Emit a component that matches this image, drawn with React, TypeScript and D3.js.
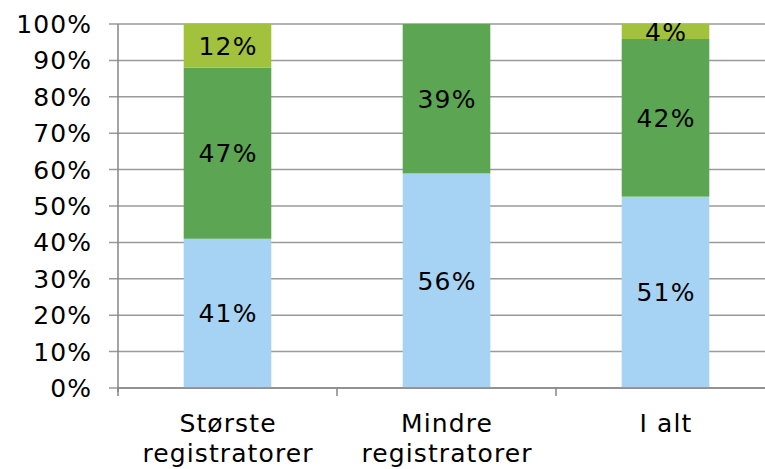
import React from "react";
import * as d3 from "d3";

// Categories (two-line labels) and series shares in percent
const categories = ["Største registratorer", "Mindre registratorer", "I alt"];
const categoryLines = [["Største", "registratorer"], ["Mindre", "registratorer"], ["I alt"]];
const seriesA = [41, 56, 51];
const seriesB = [47, 39, 42];
const seriesC = [12, 0, 4];
const seriesColors = ["#A6D3F3", "#5BA553", "#A2C13D"];
const yTicks = [0, 10, 20, 30, 40, 50, 60, 70, 80, 90, 100];

const W = 765;
const H = 469;
const left = 118;
const top = 24;
const bottom = 388;
const right = 775;
const font = "Verdana, 'DejaVu Sans', sans-serif";
const ls = 1.1;

export default function App() {
  const x = d3.scaleBand<string>().domain(categories).range([left, right]).paddingInner(0.6).paddingOuter(0.3);
  const y = d3.scaleLinear().domain([0, 100]).range([bottom, top]);

  const rows = categories.map((c, i) => ({ cat: c, a: seriesA[i], b: seriesB[i], c: seriesC[i] }));
  const stacked = d3
    .stack<any>()
    .keys(["a", "b", "c"])
    .offset(d3.stackOffsetExpand)(rows);

  const step = x.step();
  const boundaries = d3.range(categories.length + 1).map((i) => left + i * step);

  return (
    <svg width={W} height={H} style={{ position: "absolute", left: 0, top: 0 }}>
      <rect width={W} height={H} fill="#fff" />
      {yTicks.map((t) => (
        <g key={t}>
          <line x1={left - 9} x2={W} y1={y(t)} y2={y(t)} stroke="#9a9a9a" strokeWidth={1.5} />
          <text x={91 + ls} y={y(t)} dy="0.36em" textAnchor="end" fontFamily={font} fontSize={25} letterSpacing={ls} fill="#000">
            {t}%
          </text>
        </g>
      ))}
      {stacked.map((layer, li) =>
        layer.map((seg, ci) => {
          const raw = [seriesA, seriesB, seriesC][li][ci];
          if (!raw) return null;
          const bx = x(categories[ci])!;
          const y0 = y(seg[0] * 100);
          const y1 = y(seg[1] * 100);
          return (
            <g key={`${li}-${ci}`}>
              <rect x={bx} y={y1} width={x.bandwidth()} height={y0 - y1} fill={seriesColors[li]} />
              <text
                x={bx + x.bandwidth() / 2 + ls / 2}
                y={(y0 + y1) / 2}
                dy="0.36em"
                textAnchor="middle"
                fontFamily={font}
                fontSize={25}
                letterSpacing={ls}
                fill="#000"
              >
                {raw}%
              </text>
            </g>
          );
        })
      )}
      <line x1={left} x2={left} y1={top} y2={bottom + 4} stroke="#868686" strokeWidth={1.5} />
      <line x1={left} x2={W} y1={bottom} y2={bottom} stroke="#868686" strokeWidth={1.5} />
      {boundaries.map((bx, i) => (
        <line key={i} x1={bx} x2={bx} y1={bottom} y2={bottom + 8} stroke="#868686" strokeWidth={1.5} />
      ))}
      {categoryLines.map((lines, i) => {
        const cx = x(categories[i])! + x.bandwidth() / 2 + ls / 2;
        return (
          <text
            key={i}
            x={cx}
            y={432}
            textAnchor="middle"
            fontFamily={font}
            fontSize={25}
            letterSpacing={ls}
            fill="#000"
          >
            {lines.map((l, j) => (
              <tspan key={j} x={cx} dy={j === 0 ? 0 : 30}>
                {l}
              </tspan>
            ))}
          </text>
        );
      })}
    </svg>
  );
}
